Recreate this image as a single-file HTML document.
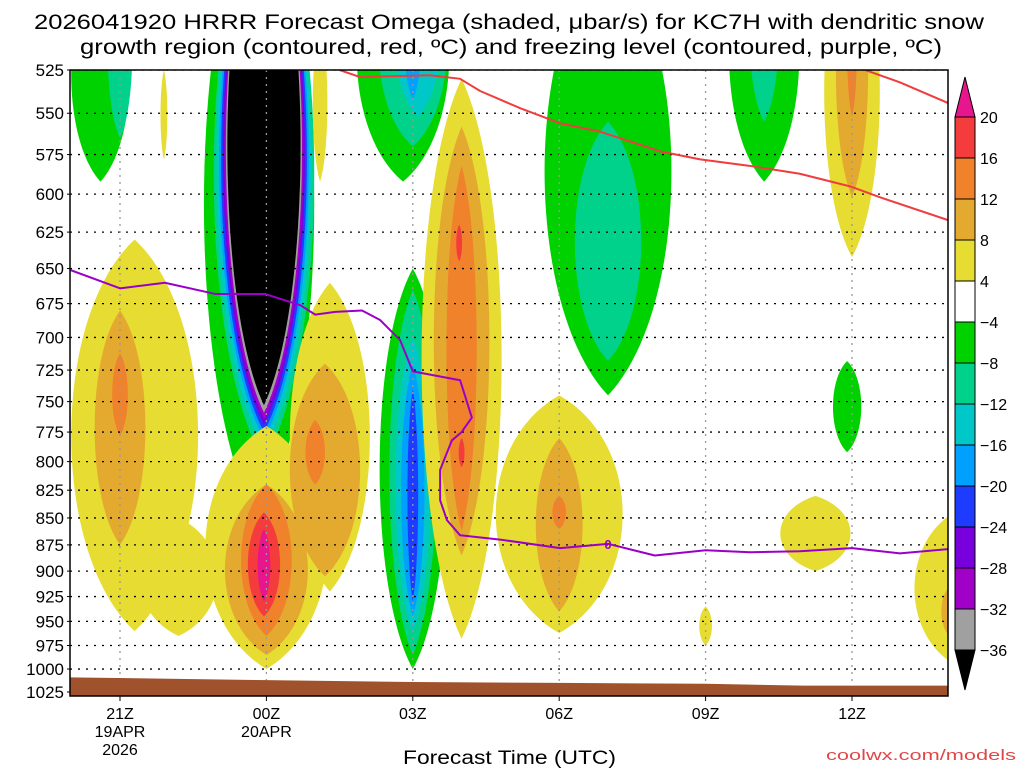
<!DOCTYPE html>
<html><head><meta charset="utf-8"><style>
body{margin:0;background:#fff;width:1024px;height:768px;overflow:hidden}
svg{display:block;font-family:"Liberation Sans",sans-serif}
</style></head><body>
<svg id="c" width="1024" height="768"></svg>
<script>
// ---- data ----
const pressureTicks=[525,550,575,600,625,650,675,700,725,750,775,800,825,850,875,900,925,950,975,1000,1025];
const timeTickHours=[0,3,6,9,12,15];
const timeTickLabels=["21Z","00Z","03Z","06Z","09Z","12Z"];
const dateLabels=[["19APR","2026"],["20APR"],[],[],[],[]];
const colorLevels=["20","16","12","8","4","-4","-8","-12","-16","-20","-24","-28","-32","-36"];
const levelColors=["#f43c3c","#f0822c","#e4aa30","#e6dc32","#ffffff","#00d200","#00d28c","#00c8c8","#00a0ff","#1e3cff","#7800dc","#a000c8","#a0a0a0"];
// blobs: [colorIndex, hour, pTop, pBottom, halfWidthHours]
const blobs=[
[5,-0.4,470,592,0.6],[6,0.0,470,565,0.25],
[3,0.3,630,960,1.3],[3,1.2,850,965,0.8],[2,0.0,680,875,0.52],[1,0.0,712,778,0.16],
[3,0.9,525,578,0.07],
[5,2.85,430,855,1.13],[6,2.95,430,800,1.03],[7,2.95,430,790,0.97],[8,2.95,430,781,0.92],[9,2.95,430,775,0.88],[10,2.95,430,769,0.84],[11,2.95,430,764,0.81],[12,2.95,430,759,0.78],[13,2.95,430,753,0.75],
[3,4.1,500,592,0.15],
[3,3.0,770,1000,1.25],[3,4.3,660,920,0.82],[2,3.0,820,985,0.85],[2,4.2,720,905,0.72],[1,4.0,765,820,0.2],[1,3.0,820,965,0.52],[0,2.95,845,945,0.33],[14,2.95,860,930,0.13],
[5,5.8,450,592,0.95],[6,6.0,460,570,0.7],[7,6.1,470,552,0.46],[8,6.0,480,542,0.17],
[5,6.0,650,1000,0.68],[6,6.0,665,985,0.48],[7,6.0,700,962,0.36],[8,6.0,720,945,0.24],[9,6.0,740,930,0.11],
[3,7.0,530,968,0.82],[2,7.0,558,885,0.57],[1,7.0,582,862,0.31],[0,6.95,620,645,0.06],[0,7.0,780,805,0.06],
[5,10.0,460,745,1.3],[6,10.0,555,718,0.68],
[3,9.0,745,962,1.3],[2,9.0,780,940,0.48],[1,9.0,830,860,0.14],
[3,12.0,935,975,0.13],
[5,13.2,450,592,0.72],[6,13.2,460,555,0.3],
[3,15.0,450,642,0.57],[2,15.0,460,602,0.33],[1,15.0,480,552,0.1],
[5,14.9,718,792,0.29],
[3,14.25,830,900,0.72],
[3,17.1,845,995,0.82],[2,17.0,915,965,0.17]
];
const redLine1Hours=[4.5,4.92,6.35,6.97,7.38,8.2,9.02,9.84,11.07,11.89,12.9,13.93,14.96,15.57,16.97];
const redLine1P=[525,529,528,530,537,547,556,561,573,578,582,587,595,602,617];
const redLine2Hours=[15.27,15.98,16.97];
const redLine2P=[525,532,544];
const frzHours=[-1.02,0,0.92,1.95,2.97,3.69,4.0,4.41,4.96,5.33,5.74,6.0,6.97,7.21,7.0,6.8,6.56,6.56,6.7,6.97,7.79,9.02,10.0,10.96,12.0,12.91,13.93,15.0,15.98,16.97];
const frzP=[651,664,660,668,668,676,683,681,680,687,702,726,733,763,775,782,807,834,852,866,870,878,874,885,880,882,881,878,883,879];
const sfcHours=[-1.02,3,6,9,12,14,16.97];
const sfcP=[1009,1012,1014,1015,1016,1018,1018];

// ---- axes ----
const L=70,R=948,T=70,B=696;
const lnT=Math.log(525),lnB=Math.log(1025);
const yP=p=>T+622*(Math.log(p)-lnT)/(lnB-lnT);
const xH=h=>120+48.8*h;
const NS="http://www.w3.org/2000/svg";
const svg=document.getElementById('c');
function mk(tag,attrs,parent){const e=document.createElementNS(NS,tag);for(const k in attrs)e.setAttribute(k,attrs[k]);(parent||svg).appendChild(e);return e;}
const fillColor=i=>i===13?"#000000":(i===14?"#e8168c":levelColors[i]);

const defs=mk('defs',{});
const cp=mk('clipPath',{id:'plotclip'},defs);
mk('rect',{x:L,y:T,width:R-L,height:B-T},cp);
const g=mk('g',{'clip-path':'url(#plotclip)'});



blobs.forEach(b=>{
  const y1=yP(b[2]),y2=yP(b[3]),cx=xH(b[1]),w=48.8*b[4];
  const k=w/0.75;
  const d=`M${cx},${y1} C${cx+k},${y1+(y2-y1)*0.2} ${cx+k},${y1+(y2-y1)*0.8} ${cx},${y2} C${cx-k},${y1+(y2-y1)*0.8} ${cx-k},${y1+(y2-y1)*0.2} ${cx},${y1} Z`;
  const e=mk('path',{d:d,fill:fillColor(b[0])},g);
  
  
});

// grid
pressureTicks.forEach(p=>{
  const l=mk('line',{x1:L,x2:R,y1:yP(p),y2:yP(p),stroke:'#000','stroke-width':1.3,'stroke-dasharray':'2,6'},g);
  
  
});
timeTickHours.forEach(h=>{
  const l=mk('line',{x1:xH(h),x2:xH(h),y1:T,y2:B,stroke:'#999','stroke-width':1.3,'stroke-dasharray':'2,5'},g);
  
  
});

// ground
let gp='M'+L+','+B;
sfcHours.forEach((h,i)=>{gp+=' L'+xH(h)+','+yP(sfcP[i]);});
gp+=' L'+R+','+B+' Z';
const ground=mk('path',{d:gp,fill:'#a0522d'},g);



function line(hs,ps,color,name){
  const d=hs.map((h,i)=>(i?'L':'M')+xH(h)+','+yP(ps[i])).join(' ');
  const e=mk('path',{d:d,fill:'none',stroke:color,'stroke-width':2,'stroke-linejoin':'round'},g);
  
  
}
line(redLine1Hours,redLine1P,'#f03c3c','dendritic-contour-upper');
line(redLine2Hours,redLine2P,'#f03c3c','dendritic-contour-right');
line(frzHours,frzP,'#9a00c8','freezing-level');
const zl=mk('text',{x:xH(10.0),y:yP(874)+5,'font-size':13,fill:'#9a00c8','text-anchor':'middle','font-weight':'bold'},g);
zl.textContent='0';



// frame
const fr=mk('rect',{x:L,y:T,width:R-L,height:B-T,fill:'none',stroke:'#000','stroke-width':1.5});



// y labels
pressureTicks.forEach(p=>{
  const t=mk('text',{x:L-6,y:yP(p)+6,'font-size':17,'text-anchor':'end',fill:'#000'});
  t.textContent=p;
  
  
  mk('line',{x1:L-3,x2:L,y1:yP(p),y2:yP(p),stroke:'#000'});
});
// x labels
timeTickHours.forEach((h,i)=>{
  mk('line',{x1:xH(h),x2:xH(h),y1:B,y2:B+5,stroke:'#000'});
  const t=mk('text',{x:xH(h),y:719,'font-size':16,'text-anchor':'middle'});
  t.textContent=timeTickLabels[i];
  
  
  dateLabels[i].forEach((s,j)=>{
    const d=mk('text',{x:xH(h),y:737+18*j,'font-size':16,'text-anchor':'middle'});
    d.textContent=s;
    
    
  });
});

// titles
[["2026041920 HRRR Forecast Omega (shaded, μbar/s) for KC7H with dendritic snow",29,34,950],["growth region (contoured, red, ºC) and freezing level (contoured, purple, ºC)",54,80,862]].forEach((s,i)=>{
  const t=mk('text',{x:s[2],y:s[1],'font-size':21,textLength:s[3],lengthAdjust:'spacingAndGlyphs'});
  t.textContent=s[0];
  
  
});
const xt=mk('text',{x:403,y:764,'font-size':19,textLength:213,lengthAdjust:'spacingAndGlyphs'});
xt.textContent='Forecast Time (UTC)';


const cr=mk('text',{x:826,y:760,'font-size':15,fill:'#e04848',textLength:190,lengthAdjust:'spacingAndGlyphs'});
cr.textContent='coolwx.com/models';



// colorbar
const cbX=955,cbW=20,cbTop=117,cbH=41;
const cb=mk('g',{});


mk('path',{d:`M${cbX},${cbTop} L${cbX+cbW/2},${cbTop-40} L${cbX+cbW},${cbTop} Z`,fill:'#e8168c',stroke:'#000'},cb);
levelColors.forEach((c,i)=>{
  const r=mk('rect',{x:cbX,y:cbTop+cbH*i,width:cbW,height:cbH,fill:c,stroke:'#000','stroke-width':1},cb);
  
  
});
const cbBot=cbTop+cbH*levelColors.length;
mk('path',{d:`M${cbX},${cbBot} L${cbX+cbW/2},${cbBot+40} L${cbX+cbW},${cbBot} Z`,fill:'#000',stroke:'#000'},cb);
colorLevels.forEach((s,i)=>{
  const t=mk('text',{x:980,y:cbTop+cbH*i+6,'font-size':16},cb);
  t.textContent=s.replace('-','−');
  
  
});
</script>
</body></html>
